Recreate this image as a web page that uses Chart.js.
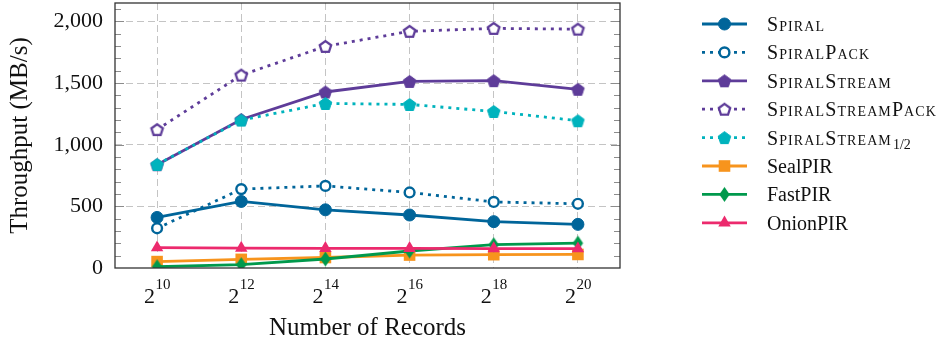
<!DOCTYPE html>
<html>
<head>
<meta charset="utf-8">
<title>Throughput vs. number of records</title>
<script src="https://cdn.jsdelivr.net/npm/chart.js@4/dist/chart.umd.min.js"></script>
<style>
  html, body { margin: 0; padding: 0; background: #fff; }
  #wrap { width: 941px; height: 345px; }
</style>
</head>
<body>
<div id="wrap"><canvas id="c" width="941" height="345"></canvas></div>
<script>
// Number of records, as powers of two (x = log2 of the record count)
const recordExponents = [10, 12, 14, 16, 18, 20];

// Throughput in MB/s for each scheme
const spiral           = [410, 540, 472, 430, 376, 354];
const spiralPack       = [322, 640, 666, 613, 536, 521];
const spiralStream     = [838, 1205, 1428, 1514, 1520, 1450];
const spiralStreamPack = [1123, 1565, 1798, 1920, 1944, 1938];
const spiralStreamHalf = [840, 1200, 1335, 1327, 1270, 1195];
const sealPIR          = [52, 70, 85, 105, 108, 110];
const fastPIR          = [10, 27, 73, 138, 189, 202];
const onionPIR         = [165, 162, 160, 160, 158, 157];

// Series names; the Spiral family is set in small caps
const seriesNames = ['Spiral', 'SpiralPack', 'SpiralStream', 'SpiralStreamPack',
                     'SpiralStream', 'SealPIR', 'FastPIR', 'OnionPIR'];
const seriesSubscripts = ['', '', '', '', '1/2', '', '', ''];
const smallCapsSeries = [true, true, true, true, true, false, false, false];

// Axis ticks
const yLabelStep = 500;
const yMinorStep = 100;
const yMax = 2150;

const SERIF = '"Liberation Serif", "DejaVu Serif", serif';
const COL = {
  blue: '#00659a', purple: '#5e3c99', cyan: '#00b3bd',
  orange: '#f7941d', green: '#00994c', pink: '#ec2a6d'
};

function pentagonMark(r, fill, stroke, lw) {
  const s = Math.ceil(2 * r + lw + 4);
  const c = document.createElement('canvas');
  c.width = s; c.height = s;
  const g = c.getContext('2d');
  g.translate(s / 2, s / 2 + r * 0.1);
  g.beginPath();
  for (let k = 0; k < 5; k++) {
    const a = -Math.PI / 2 + k * 2 * Math.PI / 5;
    g.lineTo(r * Math.cos(a), r * Math.sin(a));
  }
  g.closePath();
  g.fillStyle = fill; g.fill();
  if (lw) { g.lineWidth = lw; g.strokeStyle = stroke; g.lineJoin = 'miter'; g.stroke(); }
  return c;
}

function diamondMark(hw, hh, fill) {
  const w = Math.ceil(2 * hw + 4), h = Math.ceil(2 * hh + 4);
  const c = document.createElement('canvas');
  c.width = w; c.height = h;
  const g = c.getContext('2d');
  g.translate(w / 2, h / 2);
  g.beginPath();
  g.moveTo(0, -hh); g.lineTo(hw, 0); g.lineTo(0, hh); g.lineTo(-hw, 0);
  g.closePath();
  g.fillStyle = fill; g.fill();
  return c;
}

const toPoints = vals => recordExponents.map((e, i) => ({ x: e, y: vals[i] }));

const seriesValues = [spiral, spiralPack, spiralStream, spiralStreamPack,
                      spiralStreamHalf, sealPIR, fastPIR, onionPIR];
const DOTS = [3, 5];
const styles = [
  { color: COL.blue, dash: [], pointStyle: 'circle', radius: 6, fill: COL.blue, bw: 1 },
  { color: COL.blue, dash: DOTS, pointStyle: 'circle', radius: 4.9, fill: '#ffffff', bw: 2.4 },
  { color: COL.purple, dash: [], pointStyle: pentagonMark(6.6, COL.purple, COL.purple, 1), radius: 7, bw: 0 },
  { color: COL.purple, dash: DOTS, pointStyle: pentagonMark(6, '#ffffff', COL.purple, 2.3), radius: 7, bw: 0 },
  { color: COL.cyan, dash: DOTS, pointStyle: pentagonMark(6.6, COL.cyan, COL.cyan, 1), radius: 7, bw: 0 },
  { color: COL.orange, dash: [], pointStyle: 'rect', radius: 8.2, fill: COL.orange, bw: 0 },
  { color: COL.green, dash: [], pointStyle: diamondMark(5.2, 7.4, COL.green), radius: 7, bw: 0 },
  { color: COL.pink, dash: [], pointStyle: 'triangle', radius: 7.2, fill: COL.pink, bw: 0 }
];

const datasets = seriesValues.map((vals, i) => {
  const s = styles[i];
  return {
    label: seriesNames[i] + seriesSubscripts[i],
    data: toPoints(vals),
    borderColor: s.color,
    borderWidth: 2.8,
    borderDash: s.dash,
    borderCapStyle: 'butt',
    tension: 0,
    fill: false,
    pointStyle: s.pointStyle,
    pointRadius: s.radius,
    pointHoverRadius: s.radius,
    pointBackgroundColor: s.fill || s.color,
    pointBorderColor: s.color,
    pointBorderWidth: s.bw,
    order: seriesValues.length - i
  };
});

// Frame, inner minor ticks, power-of-two tick labels and the legend
const decorations = {
  id: 'decorations',
  afterDraw(chart) {
    const { ctx, chartArea: a, scales: { x, y } } = chart;
    ctx.save();

    // inward tick marks on left and right edges
    ctx.strokeStyle = '#8c8c8c';
    ctx.lineWidth = 1;
    ctx.setLineDash([]);
    y.ticks.forEach(t => {
      if (t.value <= 0 || t.value >= yMax) return;
      const py = Math.round(y.getPixelForValue(t.value)) + 0.5;
      const len = t.value % yLabelStep === 0 ? 9 : 6;
      ctx.beginPath();
      ctx.moveTo(a.left, py); ctx.lineTo(a.left + len, py);
      ctx.moveTo(a.right, py); ctx.lineTo(a.right - len, py);
      ctx.stroke();
    });

    // plot frame
    ctx.strokeStyle = '#333333';
    ctx.lineWidth = 1.3;
    ctx.strokeRect(a.left, a.top, a.right - a.left, a.bottom - a.top);

    // x tick labels: 2^n
    ctx.fillStyle = '#111111';
    ctx.textBaseline = 'alphabetic';
    ctx.textAlign = 'left';
    recordExponents.forEach(e => {
      const px = x.getPixelForValue(e);
      const base = '2', sup = String(e);
      ctx.font = '22px ' + SERIF;
      const wb = ctx.measureText(base).width;
      ctx.font = '15px ' + SERIF;
      const ws = ctx.measureText(sup).width;
      const x0 = px - (wb + ws) / 2;
      ctx.font = '22px ' + SERIF;
      ctx.fillText(base, x0, a.bottom + 35);
      ctx.font = '15px ' + SERIF;
      ctx.fillText(sup, x0 + wb + 0.5, a.bottom + 21);
    });

    // legend
    const lx0 = a.right + 82, lx1 = a.right + 127, mx = (lx0 + lx1) / 2;
    const tx = a.right + 147;
    chart.data.datasets.forEach((ds, i) => {
      const ly = 24 + i * 28.4;
      ctx.save();
      ctx.strokeStyle = ds.borderColor;
      ctx.lineWidth = ds.borderWidth;
      ctx.lineCap = 'butt';
      ctx.setLineDash(ds.borderDash || []);
      ctx.beginPath();
      ctx.moveTo(lx0, ly); ctx.lineTo(lx1, ly);
      ctx.stroke();
      ctx.setLineDash([]);
      ctx.fillStyle = ds.pointBackgroundColor;
      ctx.strokeStyle = ds.pointBorderColor;
      ctx.lineWidth = ds.pointBorderWidth;
      Chart.helpers.drawPoint(ctx, {
        pointStyle: ds.pointStyle, radius: ds.pointRadius,
        borderWidth: ds.pointBorderWidth, rotation: 0
      }, mx, ly);
      ctx.restore();

      ctx.save();
      ctx.fillStyle = '#111111';
      ctx.textBaseline = 'alphabetic';
      ctx.textAlign = 'left';
      ctx.font = (smallCapsSeries[i] ? 'small-caps ' : '') + '20px ' + SERIF;
      if (smallCapsSeries[i]) ctx.letterSpacing = '1.1px';
      const name = seriesNames[i];
      const baseY = ly + 7;
      ctx.fillText(name, tx, baseY);
      if (seriesSubscripts[i]) {
        const w = ctx.measureText(name).width;
        ctx.letterSpacing = '0px';
        ctx.font = '14px ' + SERIF;
        ctx.fillText(seriesSubscripts[i], tx + w + 1, baseY + 4);
      }
      ctx.restore();
    });
    ctx.restore();
  }
};

new Chart(document.getElementById('c'), {
  type: 'line',
  data: { datasets },
  plugins: [decorations],
  options: {
    responsive: false,
    animation: false,
    layout: { autoPadding: false, padding: { left: 0, right: 321, top: 3, bottom: 0 } },
    plugins: { legend: { display: false }, tooltip: { enabled: false } },
    scales: {
      x: {
        type: 'linear',
        min: 9,
        max: 21,
        afterBuildTicks: s => { s.ticks = recordExponents.map(v => ({ value: v })); },
        afterFit: s => { s.height = 77; s.paddingLeft = 0; s.paddingRight = 0; },
        ticks: { display: false },
        grid: { color: '#c4c4c4', lineWidth: 1, drawTicks: false },
        border: { display: false, dash: [7, 4] },
        title: {
          display: true, text: 'Number of Records', color: '#111111',
          font: { family: SERIF, size: 25 }, padding: { top: 0, bottom: 2 }
        }
      },
      y: {
        type: 'linear',
        min: 0,
        max: yMax,
        afterBuildTicks: s => {
          const t = [];
          for (let v = 0; v <= yMax; v += yMinorStep) t.push({ value: v });
          s.ticks = t;
        },
        afterFit: s => { s.width = 115; s.paddingTop = 0; s.paddingBottom = 0; },
        ticks: {
          color: '#111111',
          padding: 12,
          autoSkip: false,
          font: { family: SERIF, size: 22 },
          callback: v => (v % yLabelStep === 0 ? v.toLocaleString('en-US') : '')
        },
        grid: {
          drawTicks: false,
          lineWidth: 1,
          color: c => (c.tick && c.tick.value > 0 && c.tick.value % yLabelStep === 0)
            ? '#c4c4c4' : 'rgba(0,0,0,0)'
        },
        border: { display: false, dash: [7, 4] },
        title: {
          display: true, text: 'Throughput (MB/s)', color: '#111111',
          font: { family: SERIF, size: 25 }, padding: { top: 5, bottom: 0 }
        }
      }
    }
  }
});
</script>
</body>
</html>
